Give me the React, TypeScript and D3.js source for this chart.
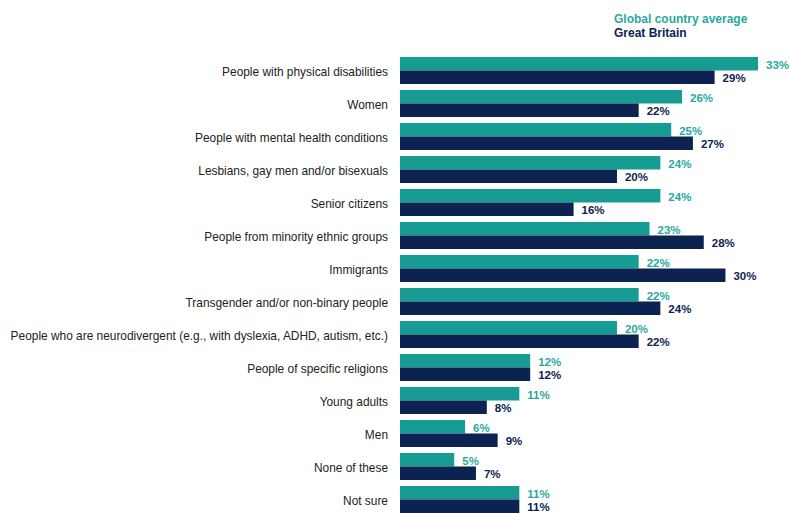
import React from "react";
import * as d3 from "d3";

const categories = [
  "People with physical disabilities",
  "Women",
  "People with mental health conditions",
  "Lesbians, gay men and/or bisexuals",
  "Senior citizens",
  "People from minority ethnic groups",
  "Immigrants",
  "Transgender and/or non-binary people",
  "People who are neurodivergent (e.g., with dyslexia, ADHD, autism, etc.)",
  "People of specific religions",
  "Young adults",
  "Men",
  "None of these",
  "Not sure",
];
const globalAvg = [33, 26, 25, 24, 24, 23, 22, 22, 20, 12, 11, 6, 5, 11];
const greatBritain = [29, 22, 27, 20, 16, 28, 30, 24, 22, 12, 8, 9, 7, 11];
const seriesNames = ["Global country average", "Great Britain"];

const TEAL = "#179c93";
const TEAL_TEXT = "#2aa89e";
const NAVY = "#0c2352";
const FONT = "'Liberation Sans', Arial, sans-serif";

export default function App() {
  const W = 790;
  const H = 513;
  const x0 = 400;
  const x = d3.scaleLinear().domain([0, 33]).range([x0, 758]);
  const y = d3
    .scaleBand<number>()
    .domain(d3.range(categories.length))
    .range([57, 57 + 33 * categories.length - 6])
    .paddingInner(6 / 33)
    .paddingOuter(0)
    .align(0);
  const bh = y.bandwidth() / 2;
  return (
    <svg
      width={W}
      height={H}
      style={{ position: "absolute", left: 0, top: 0, background: "#fff" }}
      fontFamily={FONT}
    >
      <text x={614} y={23} fontSize={12} fontWeight="bold" fill={TEAL_TEXT}>
        {seriesNames[0]}
      </text>
      <text x={614} y={37} fontSize={12} fontWeight="bold" fill={NAVY}>
        {seriesNames[1]}
      </text>
      {categories.map((c, i) => {
        const top = y(i)!;
        return (
          <g key={c}>
            <text
              x={388}
              y={top + bh + 1}
              dy="0.35em"
              textAnchor="end"
              fontSize={11.9}
              fill="#222"
            >
              {c}
            </text>
            <rect
              x={x0}
              y={top}
              width={x(globalAvg[i]) - x0}
              height={bh}
              fill={TEAL}
            />
            <rect
              x={x0}
              y={top + bh}
              width={x(greatBritain[i]) - x0}
              height={bh}
              fill={NAVY}
            />
            <text
              x={x(globalAvg[i]) + 8}
              y={top + bh / 2 + 1}
              dy="0.35em"
              fontSize={11.5}
              fontWeight="bold"
              fill={TEAL_TEXT}
            >
              {globalAvg[i]}%
            </text>
            <text
              x={x(greatBritain[i]) + 8}
              y={top + bh * 1.5 + 0.5}
              dy="0.35em"
              fontSize={11.5}
              fontWeight="bold"
              fill={NAVY}
            >
              {greatBritain[i]}%
            </text>
          </g>
        );
      })}
    </svg>
  );
}
